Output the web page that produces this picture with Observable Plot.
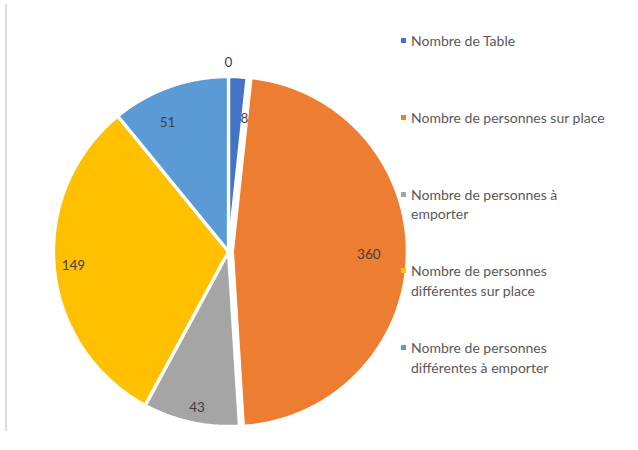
<!DOCTYPE html>
<html>
<head>
<meta charset="utf-8">
<script src="https://cdn.jsdelivr.net/npm/d3@7"></script>
<script src="https://cdn.jsdelivr.net/npm/@observablehq/plot@0.6"></script>
<style>
  html, body { margin: 0; padding: 0; background: #ffffff; }
  #wrap { position: relative; width: 638px; height: 450px; overflow: hidden; font-family: Lato, "Open Sans", sans-serif; }
  #frame { position: absolute; left: 5px; top: 4px; width: 2px; height: 427px; background: #dcdcdc; }
  #chart { position: absolute; left: 0; top: 0; }
  .item { position: absolute; left: 400px; font-size: 14px; line-height: 19.5px; color: #595959; white-space: pre; }
  .swatch { position: absolute; left: 1px; top: 7px; width: 5px; height: 5px; }
  .txt { position: absolute; left: 11px; top: 0; }
</style>
</head>
<body>
<div id="wrap">
  <div id="frame"></div>
  <div id="chart"></div>
  <div id="legend"></div>
</div>
<script>
// Categories (legend order = slice order, clockwise from 12 o'clock)
const categories = [
  "Nombre de Table",
  "Nombre de personnes sur place",
  "Nombre de personnes à emporter",
  "Nombre de personnes différentes sur place",
  "Nombre de personnes différentes à emporter"
];
// Legend text as wrapped in the reference
const legendLabels = [
  "Nombre de Table",
  "Nombre de personnes sur place",
  "Nombre de personnes à\nemporter",
  "Nombre de personnes\ndifférentes sur place",
  "Nombre de personnes\ndifférentes à emporter"
];
// Slice sizes (percent of the circle)
const sliceShares = [1.7, 47.3, 8.9, 31.2, 10.9];
// Data labels printed on the slices
const dataLabels = ["8", "360", "43", "149", "51"];
// Extra zero label printed above the pie
const zeroLabel = "0";
const colors = ["#4472C4", "#ED7D31", "#A5A5A5", "#FFC000", "#5B9BD5"];

// styling options: slice explosion and label placement (radius fraction, angle shift in degrees)
const explode = {"Nombre de personnes sur place": 0.022};
const labelPlacement = {
  "Nombre de Table": {r: 0.765, shift: 3.8},
  "Nombre de personnes sur place": {r: 0.78, shift: 0},
  "Nombre de personnes à emporter": {r: 0.91, shift: -1},
  "Nombre de personnes différentes sur place": {r: 0.89, shift: 0},
  "Nombre de personnes différentes à emporter": {r: 0.815, shift: -5.7}
};

const total = d3.sum(sliceShares);
let acc = 0;
const slices = categories.map((c, i) => {
  const a0 = acc / total * 2 * Math.PI;
  acc += sliceShares[i];
  const a1 = acc / total * 2 * Math.PI;
  return {cat: c, a0, a1, mid: (a0 + a1) / 2, label: dataLabels[i], e: explode[c] || 0};
});

const outline = slices.flatMap(s => {
  const ox = s.e * Math.sin(s.mid), oy = s.e * Math.cos(s.mid);
  const n = Math.max(2, Math.ceil((s.a1 - s.a0) / (Math.PI / 180)));
  const arr = [{cat: s.cat, x: ox, y: oy}];
  for (let k = 0; k <= n; k++) {
    const a = s.a0 + (s.a1 - s.a0) * k / n;
    arr.push({cat: s.cat, x: ox + Math.sin(a), y: oy + Math.cos(a)});
  }
  return arr;
});

const labels = slices.map(s => {
  const p = labelPlacement[s.cat];
  const a = s.mid + p.shift * Math.PI / 180;
  return {
    text: s.label,
    x: s.e * Math.sin(s.mid) + p.r * Math.sin(a),
    y: s.e * Math.cos(s.mid) + p.r * Math.cos(a)
  };
});
labels.push({text: zeroLabel, x: 0, y: 1.08});

const chart = Plot.plot({
  width: 638,
  height: 450,
  margin: 0,
  style: {fontFamily: "Lato, 'Open Sans', sans-serif", background: "transparent"},
  x: {domain: [-1, 1], range: [53, 403], axis: null},
  y: {domain: [-1, 1], range: [426, 76], axis: null},
  color: {domain: categories, range: colors},
  marks: [
    Plot.line(outline, {x: "x", y: "y", z: "cat", fill: "cat", stroke: "white", strokeWidth: 3.3, curve: "linear-closed", strokeLinejoin: "miter"}),
    Plot.text(labels, {x: "x", y: "y", text: "text", fill: "#404040", fontSize: 13.5})
  ]
});
document.getElementById("chart").appendChild(chart);

const legend = document.getElementById("legend");
legendLabels.forEach((lab, i) => {
  const item = document.createElement("div");
  item.className = "item";
  item.style.top = (31 + i * 76.8) + "px";
  const sw = document.createElement("div");
  sw.className = "swatch";
  sw.style.background = colors[i];
  const t = document.createElement("div");
  t.className = "txt";
  t.textContent = lab;
  item.appendChild(sw);
  item.appendChild(t);
  legend.appendChild(item);
});
</script>
</body>
</html>
